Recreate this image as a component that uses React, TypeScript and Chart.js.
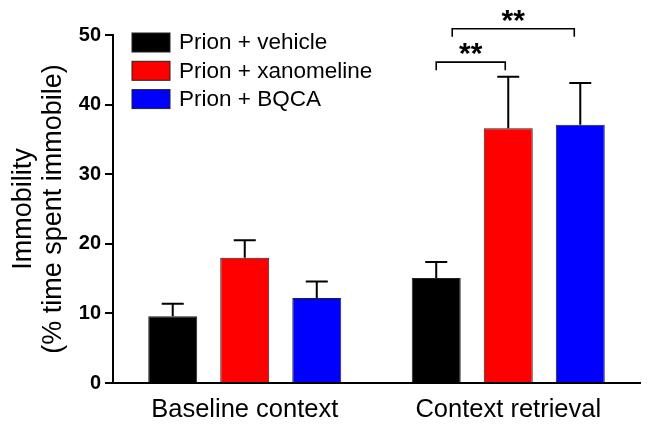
import React, { useEffect, useRef } from "react";
import { Chart, registerables } from "chart.js";

Chart.register(...registerables);

const categories = ["Baseline context", "Context retrieval"];
const seriesNames = ["Prion + vehicle", "Prion + xanomeline", "Prion + BQCA"];
const vehicle = [9.6, 15.1];
const xanomeline = [18.0, 36.6];
const bqca = [12.2, 37.1];
const vehicleErr = [1.8, 2.3];
const xanomelineErr = [2.5, 7.4];
const bqcaErr = [2.4, 6.0];
const colors = ["#000000", "#ff0000", "#0000ff"];
const yTicks = [0, 10, 20, 30, 40, 50];
const brackets = [
  { from: [0, 1], to: [1, 1], y: 46.1, label: "**" },
  { from: [0, 1], to: [2, 1], y: 50.9, label: "**" },
];

const FONT = "'Liberation Sans', Arial, Helvetica, sans-serif";

export default function App() {
  const ref = useRef<HTMLCanvasElement | null>(null);
  useEffect(() => {
    document.body.style.margin = "0";
    const errs = [vehicleErr, xanomelineErr, bqcaErr];
    const overlay = {
      id: "overlay",
      afterDatasetsDraw(chart: any) {
        const ctx = chart.ctx;
        const ys = chart.scales.y;
        ctx.save();
        ctx.strokeStyle = "#000";
        ctx.lineWidth = 2;
        chart.data.datasets.forEach((ds: any, di: number) => {
          const meta = chart.getDatasetMeta(di);
          meta.data.forEach((bar: any, i: number) => {
            const top = ys.getPixelForValue(ds.data[i]);
            const et = ys.getPixelForValue(ds.data[i] + errs[di][i]);
            ctx.beginPath();
            ctx.moveTo(bar.x, top);
            ctx.lineTo(bar.x, et);
            ctx.moveTo(bar.x - 11, et);
            ctx.lineTo(bar.x + 11, et);
            ctx.stroke();
          });
        });
        // brackets
        brackets.forEach((b, bi) => {
          const m0 = chart.getDatasetMeta(b.from[0]).data[b.from[1]];
          const m1 = chart.getDatasetMeta(b.to[0]).data[b.to[1]];
          let x0 = m0.x;
          let x1 = m1.x - 3;
          if (bi === 1) {
            x0 = m0.x + 16;
            x1 = m1.x - 6;
          }
          const y = ys.getPixelForValue(b.y);
          ctx.lineWidth = 1.6;
          ctx.strokeStyle = "#000";
          ctx.beginPath();
          ctx.moveTo(x0, y + 8);
          ctx.lineTo(x0, y);
          ctx.lineTo(x1, y);
          ctx.lineTo(x1, y + 8);
          ctx.stroke();
          ctx.fillStyle = "#000";
          ctx.font = `bold 30px ${FONT}`;
          ctx.textAlign = "center";
          ctx.textBaseline = "middle";
          ctx.fillText(b.label, (x0 + x1) / 2, y - 7);
        });
        // legend
        const ca = chart.chartArea;
        ctx.font = `22.5px ${FONT}`;
        ctx.textAlign = "left";
        ctx.textBaseline = "middle";
        seriesNames.forEach((n, i) => {
          const y = ca.top - 2 + i * 28.3;
          ctx.fillStyle = colors[i];
          ctx.fillRect(ca.left + 19, y, 38, 19);
          ctx.lineWidth = 1;
          ctx.strokeStyle = "#222";
          ctx.strokeRect(ca.left + 19, y, 38, 19);
          ctx.fillStyle = "#000";
          ctx.fillText(n, ca.left + 66, y + 10);
        });
        ctx.restore();
      },
    };
    const chart = new Chart(ref.current as HTMLCanvasElement, {
      type: "bar",
      data: {
        labels: categories,
        datasets: [vehicle, xanomeline, bqca].map((d, i) => ({
          label: seriesNames[i],
          data: d,
          backgroundColor: colors[i],
          borderColor: "#222",
          borderWidth: 1,
          categoryPercentage: 0.82,
          barPercentage: 0.68,
        })),
      },
      options: {
        animation: false,
        responsive: false,
        layout: { padding: { top: 35, right: 15, left: 0, bottom: 0 } },
        plugins: { legend: { display: false }, tooltip: { enabled: false } },
        scales: {
          x: {
            grid: { display: false },
            border: { display: true, color: "#000", width: 2 },
            ticks: { color: "#000", font: { family: FONT, size: 25.5 }, padding: 4 },
            afterFit: (s: any) => {
              s.height = 49;
            },
          },
          y: {
            min: 0,
            max: 50,
            afterBuildTicks: (s: any) => {
              s.ticks = yTicks.map((v) => ({ value: v }));
            },
            grid: {
              display: true,
              drawOnChartArea: false,
              drawTicks: true,
              tickLength: 8,
              color: "#000",
              lineWidth: 2,
            },
            border: { display: true, color: "#000", width: 2 },
            ticks: {
              color: "#000",
              font: { family: FONT, size: 20, weight: "bold" },
              padding: 4,
            },
            title: {
              display: true,
              text: ["Immobility", "(% time spent immobile)"],
              color: "#000",
              font: { family: FONT, size: 27, lineHeight: 1.12 },
              padding: { top: 8, bottom: 8 },
            },
            afterFit: (s: any) => {
              s.width = 113;
            },
          },
        },
      },
      plugins: [overlay],
    });
    return () => chart.destroy();
  }, []);
  return <canvas ref={ref} width={655} height={432} style={{ display: "block" }} />;
}
